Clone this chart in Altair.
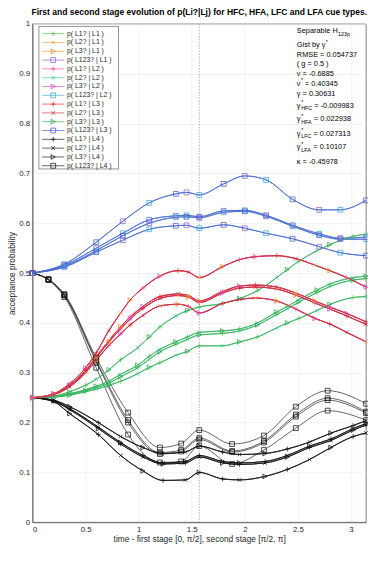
import math
import pandas as pd
import altair as alt

PI = math.pi
HALF = PI / 2

SERIES = ["p( L1? | L1 )", "p( L2? | L1 )", "p( L3? | L1 )", "p( L123? | L1 )",
          "p( L1? | L2 )", "p( L2? | L2 )", "p( L3? | L2 )", "p( L123? | L2 )",
          "p( L1? | L3 )", "p( L2? | L3 )", "p( L3? | L3 )", "p( L123? | L3 )",
          "p( L1? | L4 )", "p( L2? | L4 )", "p( L3? | L4 )", "p( L123? | L4 )"]
COLORS = ["#4dbf4a", "#f2a03a", "#f08a24", "#8a5ad0",
          "#ec4c9c", "#3cc89a", "#d94ac8", "#2ea8d8",
          "#e0262b", "#c42a3c", "#2aa84a", "#4455cc",
          "#111111", "#111111", "#111111", "#111111"]
PLUS = "M-1,0L1,0M0,-1L0,1"
XMARK = "M-0.75,-0.75L0.75,0.75M-0.75,0.75L0.75,-0.75"
TRI = "triangle-right"
SQ = "square"
SHAPES = [PLUS, XMARK, TRI, SQ] * 4

# which legend series follow each family of curves (4 cue types per family)
MEMBERS_DIAG = [0, 5, 10]
MEMBERS_OFF = [1, 2, 4, 6, 8, 9]
MEMBERS_UNION = [3, 7, 11]
MEMBERS_L4 = [12, 13, 14]
MEMBERS_L4U = [15]

TIMES_DIAG = [0, 0.2, 0.35, 0.5, 0.6, 0.72, 0.83, 0.99, 1.1, 1.2, 1.35, 1.46, HALF,
              1.79, 1.95, 2.12, 2.3, 2.4, 2.51, 2.68, 2.8, 3.02, PI]
DIAG_1 = [0.25, 0.253, 0.262, 0.275, 0.287, 0.306, 0.326, 0.350, 0.372, 0.392, 0.414, 0.425, 0.432,
          0.439, 0.449, 0.465, 0.491, 0.507, 0.524, 0.545, 0.557, 0.574, 0.578]
DIAG_2 = [0.25, 0.252, 0.258, 0.266, 0.273, 0.283, 0.297, 0.315, 0.333, 0.347, 0.362, 0.372, 0.381,
          0.384, 0.388, 0.400, 0.422, 0.433, 0.447, 0.466, 0.478, 0.491, 0.494]
DIAG_3 = [0.25, 0.252, 0.257, 0.264, 0.270, 0.279, 0.292, 0.310, 0.327, 0.342, 0.357, 0.367, 0.376,
          0.379, 0.384, 0.396, 0.417, 0.428, 0.442, 0.461, 0.473, 0.486, 0.489]
DIAG_4 = [0.25, 0.251, 0.255, 0.262, 0.267, 0.275, 0.283, 0.298, 0.311, 0.320, 0.335, 0.343, 0.354,
          0.354, 0.362, 0.372, 0.390, 0.400, 0.409, 0.425, 0.437, 0.451, 0.453]

TIMES_OFF = [0, 0.2, 0.35, 0.5, 0.6, 0.72, 0.83, 0.92, 1.04, 1.2, 1.37, 1.47, HALF,
             1.79, 1.95, 2.1, 2.3, 2.48, 2.66, 2.8, 2.96, PI]
OFF_1 = [0.25, 0.258, 0.278, 0.31, 0.34, 0.385, 0.42, 0.446, 0.47, 0.494, 0.505, 0.502, 0.491,
         0.513, 0.527, 0.533, 0.535, 0.529, 0.516, 0.505, 0.491, 0.472]
OFF_2 = [0.25, 0.257, 0.275, 0.305, 0.332, 0.365, 0.392, 0.412, 0.433, 0.453, 0.458, 0.455, 0.444,
         0.463, 0.474, 0.476, 0.472, 0.460, 0.444, 0.432, 0.419, 0.402]
OFF_3 = [0.25, 0.257, 0.274, 0.303, 0.33, 0.362, 0.388, 0.408, 0.429, 0.449, 0.455, 0.452, 0.441,
         0.460, 0.470, 0.472, 0.468, 0.456, 0.440, 0.428, 0.414, 0.397]
OFF_4 = [0.25, 0.256, 0.272, 0.30, 0.325, 0.355, 0.378, 0.396, 0.415, 0.434, 0.4375, 0.433, 0.420,
         0.439, 0.447, 0.450, 0.444, 0.428, 0.409, 0.398, 0.381, 0.362]

TIMES_UNION = [0, 0.3, 0.6, 0.85, 1.1, 1.35, 1.45, HALF, 1.8, 2.0, 2.2, 2.45, 2.7, 2.9, PI]
UNION_1 = [0.5, 0.518, 0.562, 0.604, 0.641, 0.659, 0.662, 0.657, 0.679, 0.695, 0.687, 0.648, 0.627, 0.627, 0.646]
UNION_2 = [0.5, 0.516, 0.550, 0.580, 0.607, 0.615, 0.616, 0.613, 0.625, 0.626, 0.616, 0.596, 0.579, 0.570, 0.572]
UNION_3 = [0.5, 0.514, 0.545, 0.575, 0.600, 0.612, 0.613, 0.611, 0.622, 0.624, 0.614, 0.594, 0.576, 0.568, 0.568]
UNION_4 = [0.5, 0.512, 0.542, 0.566, 0.588, 0.595, 0.596, 0.590, 0.597, 0.590, 0.580, 0.569, 0.553, 0.541, 0.535]

TIMES_L4 = [0, 0.2, 0.35, 0.62, 0.83, 1.04, 1.23, 1.44, HALF, 1.79, 1.95, 2.19, 2.40, 2.61, 2.81, 3.02, PI]
L4_1 = [0.25, 0.245, 0.232, 0.200, 0.172, 0.150, 0.138, 0.141, 0.153, 0.141, 0.136, 0.138, 0.147, 0.161, 0.179, 0.194, 0.204]
L4_2 = [0.25, 0.244, 0.228, 0.191, 0.160, 0.134, 0.119, 0.122, 0.134, 0.122, 0.119, 0.122, 0.134, 0.153, 0.167, 0.188, 0.198]
L4_3 = [0.25, 0.243, 0.226, 0.188, 0.157, 0.131, 0.117, 0.119, 0.131, 0.119, 0.116, 0.119, 0.131, 0.150, 0.164, 0.185, 0.195]
L4_4 = [0.25, 0.242, 0.218, 0.176, 0.134, 0.103, 0.084, 0.085, 0.100, 0.087, 0.085, 0.092, 0.106, 0.126, 0.150, 0.172, 0.179]

TIMES_L4U = [0, 0.15, 0.3, 0.6, 0.9, 1.2, 1.4, HALF, 1.88, 2.18, 2.48, 2.78, PI]
L4U_1 = [0.5, 0.488, 0.458, 0.330, 0.220, 0.150, 0.158, 0.185, 0.157, 0.174, 0.232, 0.264, 0.238]
L4U_2 = [0.5, 0.487, 0.456, 0.325, 0.205, 0.140, 0.145, 0.169, 0.143, 0.163, 0.216, 0.249, 0.222]
L4U_3 = [0.5, 0.487, 0.455, 0.322, 0.200, 0.137, 0.142, 0.166, 0.141, 0.160, 0.212, 0.245, 0.219]
L4U_4 = [0.5, 0.486, 0.452, 0.310, 0.176, 0.120, 0.122, 0.153, 0.117, 0.145, 0.189, 0.224, 0.205]

FAMILIES = [
    (MEMBERS_L4U, TIMES_L4U, [L4U_1, L4U_2, L4U_3, L4U_4]),
    (MEMBERS_L4, TIMES_L4, [L4_1, L4_2, L4_3, L4_4]),
    (MEMBERS_UNION, TIMES_UNION, [UNION_1, UNION_2, UNION_3, UNION_4]),
    (MEMBERS_DIAG, TIMES_DIAG, [DIAG_1, DIAG_2, DIAG_3, DIAG_4]),
    (MEMBERS_OFF, TIMES_OFF, [OFF_1, OFF_2, OFF_3, OFF_4]),
]

TITLE = "First and second stage evolution of p(Li?|Lj) for HFC, HFA, LFC and LFA cue types."
X_TITLE = "time - first stage [0, \u03c0/2], second stage [\u03c0/2, \u03c0]"
Y_TITLE = "acceptance probability"
X_TICKS = [0, 0.5, 1, 1.5, 2, 2.5, 3]
Y_TICKS = [0, 0.1, 0.2, 0.3, 0.4, 0.5, 0.6, 0.7, 0.8, 0.9, 1]

# layout
PLOT_W, PLOT_H = 340, 508
PX_T = PLOT_W / PI
PX_V = PLOT_H
FONT = "Liberation Sans"

rows = []
for members, times, curves in FAMILIES:
    n = len(members)
    for c, vals in enumerate(curves):
        for k, s in enumerate(members):
            for i, (t, v) in enumerate(zip(times, vals)):
                rows.append({"series": SERIES[s], "curve": f"{s}_{c}", "t": t, "v": v,
                             "mk": (i + c) % n == k})
df = pd.DataFrame(rows)

xs = alt.Scale(domain=[0, PI], nice=False, zero=False)
ys = alt.Scale(domain=[0, 1], nice=False, zero=False)
X = alt.X("t:Q", scale=xs, axis=alt.Axis(values=X_TICKS, format="~g", title=X_TITLE))
Y = alt.Y("v:Q", scale=ys, axis=alt.Axis(values=Y_TICKS, format="~g", title=Y_TITLE))
COL = alt.Color("series:N", scale=alt.Scale(domain=SERIES, range=COLORS), legend=None)
SHP = alt.Shape("series:N", scale=alt.Scale(domain=SERIES, range=SHAPES), legend=None)

half_rule = alt.Chart(pd.DataFrame({"t": [HALF]})).mark_rule(
    color="#8c8c8c", strokeDash=[1.5, 1.5], strokeWidth=0.7).encode(x=X)

lines = alt.Chart(df).mark_line(interpolate="monotone", strokeWidth=0.65).encode(
    x=X, y=Y, color=COL, detail="curve:N", order="t:Q")

points = alt.Chart(df).transform_filter("datum.mk").mark_point(
    filled=False, size=24, strokeWidth=0.75, opacity=1).encode(x=X, y=Y, color=COL, shape=SHP)

# legend (top-left box)
LEG_BOX = [0.06, 0.81, 0.995, 0.709]
LEG_TOP, LEG_STEP = 0.9805, 0.01767
LEG_X0, LEG_X1, LEG_XM, LEG_XT = 0.09, 0.30, 0.195, 0.325
leg_df = pd.DataFrame({"series": SERIES, "idx": list(range(len(SERIES)))})

leg_box = alt.Chart(pd.DataFrame({"t": [LEG_BOX[0]], "t2": [LEG_BOX[1]],
                                  "v": [LEG_BOX[2]], "v2": [LEG_BOX[3]]})).mark_rect(
    fill="white", stroke="#262626", strokeWidth=0.5).encode(x=X, x2="t2:Q", y=Y, y2="v2:Q")
leg_base = alt.Chart(leg_df).transform_calculate(v=f"{LEG_TOP} - datum.idx * {LEG_STEP}")
leg_rules = leg_base.transform_calculate(t=f"{LEG_X0}", t2=f"{LEG_X1}").mark_rule(
    strokeWidth=0.65).encode(x=X, x2="t2:Q", y=Y, color=COL)
leg_pts = leg_base.transform_calculate(t=f"{LEG_XM}").mark_point(
    filled=False, size=24, strokeWidth=0.75, opacity=1).encode(x=X, y=Y, color=COL, shape=SHP)
leg_txt = leg_base.transform_calculate(t=f"{LEG_XT}").mark_text(
    align="left", baseline="middle", fontSize=7, font=FONT, color="#262626").encode(
    x=X, y=Y, text="series:N")

# annotation text block (right)
ANN_X = 2.49
ANN_LINE_V = [0.985, 0.958, 0.938, 0.919, 0.900, 0.880, 0.860, 0.836, 0.809, 0.780, 0.752, 0.723]
ANN_TEXT = ["Separable H", "123p", "Gist by \u03b3", "*", "RMSE = 0.054737", "( g = 0.5 )",
            "\u03bd = -0.6885", "\u03bd", "*", "= 0.40345", "\u03b3 = 0.30631",
            "\u03b3", "*", "HFC", "= -0.009983",
            "\u03b3", "*", "HFA", "= 0.022938",
            "\u03b3", "*", "LFC", "= 0.027313",
            "\u03b3", "*", "LFA", "= 0.10107",
            "\u03ba = -0.45978"]
ANN_LINE = [0, 0, 1, 1, 2, 3, 4, 5, 5, 5, 6, 7, 7, 7, 7, 8, 8, 8, 8, 9, 9, 9, 9, 10, 10, 10, 10, 11]
ANN_DX = [0, 42, 0, 29.5, 0, 0, 0, 0, 4.2, 8.2, 0,
          0, 4.4, 4.4, 17.8, 0, 4.4, 4.4, 17.5, 0, 4.4, 4.4, 17.0, 0, 4.4, 4.4, 16.8, 0]
ANN_DY = [0, 2.6, 0, -3.3, 0, 0, 0, 0, -3.3, 0, 0,
          0, -3.4, 2.6, 0, 0, -3.4, 2.6, 0, 0, -3.4, 2.6, 0, 0, -3.4, 2.6, 0, 0]
ANN_FS = [7.5, 5.5, 7.5, 5.5, 7.5, 7.5, 7.5, 7.5, 5.5, 7.5, 7.5,
          7.5, 5.5, 5.5, 7.5, 7.5, 5.5, 5.5, 7.5, 7.5, 5.5, 5.5, 7.5, 7.5, 5.5, 5.5, 7.5, 7.5]
ann_df = pd.DataFrame({
    "txt": ANN_TEXT,
    "t": [ANN_X + dx / PX_T for dx in ANN_DX],
    "v": [ANN_LINE_V[ln] - dy / PX_V for ln, dy in zip(ANN_LINE, ANN_DY)],
    "fs": ANN_FS,
})
ann = alt.Chart(ann_df).mark_text(align="left", baseline="middle", font=FONT, color="#000000").encode(
    x=X, y=Y, text="txt:N", size=alt.Size("fs:Q", scale=None, legend=None))

chart = alt.layer(half_rule, lines, points, leg_box, leg_rules, leg_pts, leg_txt, ann).properties(
    width=PLOT_W, height=PLOT_H,
    title=alt.TitleParams(TITLE, fontSize=8.7, fontWeight="bold", font=FONT, anchor="middle",
                          offset=3, color="#000000"),
    padding={"left": 25, "top": 11, "right": 2, "bottom": 22},
    autosize=alt.AutoSizeParams(type="none"),
).configure_view(stroke="#262626", strokeWidth=0.6).configure_axis(
    labelFont=FONT, labelFontSize=8, labelColor="#262626", titleFont=FONT, titleFontSize=8.5,
    titleColor="#262626", titleFontWeight="normal", grid=True, gridColor="#e8e8e8", gridWidth=0.6,
    domainColor="#262626", domainWidth=0.6, ticks=False, labelPadding=3, titlePadding=2,
)

chart.save("out.html", embed_options={"renderer": "svg", "actions": False})
